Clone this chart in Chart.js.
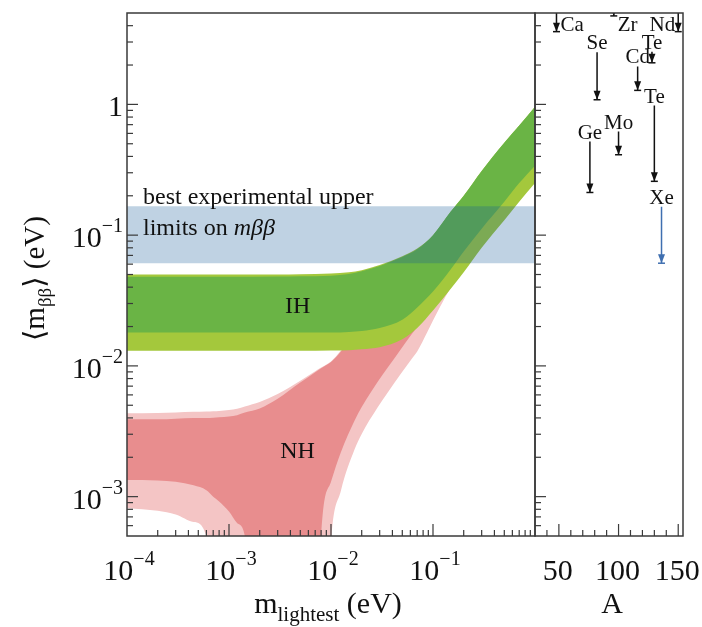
<!DOCTYPE html>
<html>
<head>
<meta charset="utf-8">
<script src="https://cdn.jsdelivr.net/npm/chart.js@4.4.1/dist/chart.umd.min.js"></script>
<style>
  html, body { margin: 0; padding: 0; background: #fff; }
  #wrap { position: relative; width: 702px; height: 627px; }
  #wrap canvas { position: absolute; left: 0; top: 0; }
</style>
</head>
<body>
<div id="wrap">
  <canvas id="masas" width="702" height="627"></canvas>
  <canvas id="isotopos" width="702" height="627"></canvas>
</div>
<script>
// ---- ejes ----
const X_MIN = 1e-4, X_MAX = 1;      // m_lightest (eV)
const Y_MIN = 5e-4, Y_MAX = 5;      // <m_bb> (eV)
const A_MIN = 30, A_MAX = 154;      // numero masico

const X_TICK_EXP = [-4, -3, -2, -1];
const Y_TICK_EXP = [-3, -2, -1, 0];
const A_TICKS = [50, 100, 150];

// ---- banda azul: mejores limites experimentales ----
const LIMIT_X = [1e-4, 1];
const LIMIT_HI = [0.166, 0.166];
const LIMIT_LO = [0.061, 0.061];

// ---- jerarquia invertida (IH) ----
const IH_X        = [1e-4, 1e-3, 3e-3, 5e-3, 1e-2, 1.5e-2, 2e-2, 3e-2, 5e-2, 7e-2, 0.1, 0.15, 0.2, 0.3, 0.5, 0.7, 1];
const IH_OUTER_HI = [0.050, 0.050, 0.0501, 0.0503, 0.0509, 0.052, 0.054, 0.059, 0.069, 0.079, 0.10, 0.152, 0.20, 0.31, 0.51, 0.69, 0.96];
const IH_INNER_HI = [0.048, 0.048, 0.0482, 0.0485, 0.049, 0.0505, 0.053, 0.058, 0.068, 0.078, 0.10, 0.152, 0.20, 0.31, 0.51, 0.69, 0.96];
const IH_INNER_LO = [0.018, 0.018, 0.018, 0.018, 0.018, 0.0182, 0.0185, 0.0195, 0.0225, 0.028, 0.037, 0.055, 0.075, 0.112, 0.18, 0.25, 0.34];
const IH_OUTER_LO = [0.01305, 0.01305, 0.01305, 0.01305, 0.0131, 0.0132, 0.0134, 0.0139, 0.016, 0.0195, 0.0265, 0.039, 0.052, 0.080, 0.13, 0.18, 0.25];

// ---- jerarquia normal (NH); 1e-5 = por debajo del eje ----
const NH_X = [1e-4, 2e-4, 3e-4, 4.5e-4, 6e-4, 7e-4, 8e-4, 1e-3, 1.2e-3, 1.43e-3,
              2e-3, 3e-3, 5e-3, 7e-3, 8e-3, 1e-2, 1.25e-2, 1.7e-2, 2e-2, 2.85e-2,
              3.6e-2, 4.8e-2, 6.2e-2, 7e-2, 8.8e-2, 0.1, 0.117, 0.15, 0.2, 0.3,
              0.5, 0.7, 1];
const NH_OUTER_HI = [0.00435, 0.00437, 0.0044, 0.00445, 0.00447, 0.0045, 0.00452, 0.0046, 0.0047, 0.0049,
                     0.0053, 0.0061, 0.0077, 0.0091, 0.0097, 0.0108, 0.0131, 0.018, 0.021, 0.029,
                     0.036, 0.047, 0.06, 0.067, 0.083, 0.094, 0.11, 0.142, 0.188, 0.285,
                     0.475, 0.66, 0.93];
const NH_INNER_HI = [0.0039, 0.0039, 0.00395, 0.004, 0.004, 0.00402, 0.00405, 0.0041, 0.0042, 0.0044,
                     0.00472, 0.0056, 0.00745, 0.00895, 0.0096, 0.0107, 0.0129, 0.0175, 0.020, 0.028,
                     0.035, 0.046, 0.059, 0.066, 0.082, 0.093, 0.108, 0.14, 0.185, 0.28,
                     0.47, 0.65, 0.92];
const NH_INNER_LO = [0.00134, 0.00133, 0.0013, 0.00122, 0.00112, 0.001, 0.00092, 0.00077, 0.00063, 0.0005,
                     1e-5, 1e-5, 1e-5, 1e-5, 0.00049, 0.0013, 0.00219, 0.0038, 0.00484, 0.0075,
                     0.0097, 0.0133, 0.0175, 0.0199, 0.0252, 0.0287, 0.0337, 0.045, 0.06, 0.09,
                     0.15, 0.21, 0.29];
const NH_OUTER_LO = [0.00082, 0.00078, 0.00073, 0.00064, 0.0005, 1e-5, 1e-5, 1e-5, 1e-5, 1e-5,
                     1e-5, 1e-5, 1e-5, 1e-5, 1e-5, 0.00045, 0.00111, 0.00229, 0.00302, 0.00478,
                     0.00627, 0.00865, 0.01135, 0.0129, 0.0182, 0.0222, 0.0282, 0.040, 0.055, 0.085,
                     0.14, 0.19, 0.26];

// ---- limites por isotopo (panel derecho) ----
const ISO_NAME   = ['Ca', 'Ge', 'Se', 'Zr', 'Mo', 'Cd', 'Te', 'Te', 'Xe', 'Nd'];
const ISO_A      = [48, 76, 82, 96, 100, 116, 128, 130, 136, 150];
const ISO_TOP    = [5, 0.52, 2.5, 5, 0.62, 1.95, 2.53, 0.98, 0.165, 5];
const ISO_BOTTOM = [3.6, 0.212, 1.085, 4.75, 0.412, 1.28, 2.08, 0.258, 0.061, 3.6];

// ---- estilo ----
const SERIF = "'Liberation Serif', 'DejaVu Serif', serif";
const INK = '#111';
const FRAME = '#3a3a3a';
const XE_BLUE = '#3f6fb0';

const pts = (xs, ys) => xs.map((x, i) => ({ x: x, y: ys[i] }));

function banda(data, color, fillTo) {
  return {
    data: data,
    borderWidth: 0,
    pointRadius: 0,
    backgroundColor: color,
    fill: fillTo === undefined ? false : fillTo,
    cubicInterpolationMode: 'monotone'
  };
}

// texto con partes (superindices / subindices)
const fontOf = p => (p.italic ? 'italic ' : '') + p.size + 'px ' + SERIF;
function richText(ctx, parts, x, y, align) {
  let w = 0;
  parts.forEach(p => { ctx.font = fontOf(p); p.w = ctx.measureText(p.t).width; w += p.w; });
  let cx = align === 'right' ? x - w : (align === 'center' ? x - w / 2 : x);
  ctx.textAlign = 'left';
  ctx.textBaseline = 'alphabetic';
  parts.forEach(p => { ctx.font = fontOf(p); ctx.fillText(p.t, cx, y + (p.dy || 0)); cx += p.w; });
}
function potencia(exp) {
  if (exp === 0) return [{ t: '1', size: 30 }];
  return [{ t: '10', size: 30 }, { t: '\u2212' + Math.abs(exp), size: 20, dy: -15 }];
}
function logSteps(min, max) {
  const out = [];
  for (let e = Math.floor(Math.log10(min)); e < Math.log10(max); e++) {
    for (let k = 1; k <= 9; k++) {
      const v = k * Math.pow(10, e);
      if (v > min * 1.0001 && v < max * 0.9999) out.push({ v: v, major: k === 1 });
    }
  }
  return out;
}
function seg(ctx, x1, y1, x2, y2) {
  ctx.beginPath(); ctx.moveTo(x1, y1); ctx.lineTo(x2, y2); ctx.stroke();
}

// ---- decoracion del panel izquierdo ----
const decoMasas = {
  id: 'decoMasas',
  afterDatasetsDraw(chart) {
    const { ctx, scales: { x, y } } = chart;
    ctx.save();
    ctx.fillStyle = INK;
    richText(ctx, [{ t: 'best experimental upper', size: 24 }], chart.chartArea.left + 16, 204, 'left');
    richText(ctx, [{ t: 'limits on ', size: 24 }, { t: 'm\u03b2\u03b2', size: 24, italic: true }], chart.chartArea.left + 16, 235, 'left');
    richText(ctx, [{ t: 'IH', size: 24 }], x.getPixelForValue(4.7e-3), y.getPixelForValue(0.0282) + 6, 'center');
    richText(ctx, [{ t: 'NH', size: 24 }], x.getPixelForValue(4.7e-3), y.getPixelForValue(0.00227) + 8, 'center');
    ctx.restore();
  },
  afterDraw(chart) {
    const { ctx, chartArea: a, scales: { x, y } } = chart;
    ctx.save();
    ctx.strokeStyle = FRAME;
    ctx.lineWidth = 1.2;
    logSteps(X_MIN, X_MAX).forEach(t => {
      const px = x.getPixelForValue(t.v);
      seg(ctx, px, a.bottom, px, a.bottom - (t.major ? 12 : 6));
    });
    logSteps(Y_MIN, Y_MAX).forEach(t => {
      const py = y.getPixelForValue(t.v);
      seg(ctx, a.left, py, a.left + (t.major ? 11 : 6), py);
    });
    ctx.lineWidth = 1.5;
    ctx.strokeRect(a.left, a.top, a.right - a.left, a.bottom - a.top);

    ctx.fillStyle = INK;
    X_TICK_EXP.forEach(e => {
      richText(ctx, potencia(e), x.getPixelForValue(Math.pow(10, e)) + 2, a.bottom + 44, 'center');
    });
    Y_TICK_EXP.forEach(e => {
      richText(ctx, potencia(e), a.left - 4, y.getPixelForValue(Math.pow(10, e)) + 12, 'right');
    });
    // titulos
    richText(ctx, [{ t: 'm', size: 30 }, { t: 'lightest', size: 21, dy: 8 }, { t: ' (eV)', size: 30 }],
      (a.left + a.right) / 2 - 3, a.bottom + 77, 'center');
    ctx.translate(44, (a.top + a.bottom) / 2 + 4);
    ctx.rotate(-Math.PI / 2);
    richText(ctx, [{ t: '\u27e8', size: 29 }, { t: 'm', size: 29 }, { t: '\u03b2\u03b2', size: 19, dy: 7 },
      { t: '\u27e9', size: 29 }, { t: ' (eV)', size: 29 }], 0, 0, 'center');
    ctx.restore();
  }
};

// ---- decoracion del panel derecho ----
const decoIsotopos = {
  id: 'decoIsotopos',
  afterDatasetsDraw(chart) {
    const { ctx, chartArea: a } = chart;
    ctx.save();
    chart.data.datasets.forEach((ds, i) => {
      const meta = chart.getDatasetMeta(i);
      const top = meta.data[0], bot = meta.data[1];
      ctx.save();
      ctx.beginPath();
      ctx.rect(a.left, a.top, a.right - a.left, a.bottom - a.top);
      ctx.clip();
      ctx.fillStyle = ds.borderColor;
      ctx.strokeStyle = ds.borderColor;
      ctx.beginPath();
      ctx.moveTo(bot.x - 3.5, bot.y - 9);
      ctx.lineTo(bot.x + 3.5, bot.y - 9);
      ctx.lineTo(bot.x, bot.y);
      ctx.closePath();
      ctx.fill();
      ctx.lineWidth = 1.5;
      seg(ctx, bot.x - 3.5, bot.y, bot.x + 3.5, bot.y);
      ctx.restore();

      ctx.fillStyle = INK;
      ctx.font = '21px ' + SERIF;
      const w = ctx.measureText(ds.label).width;
      if (ISO_TOP[i] >= Y_MAX) {
        if (top.x + 5 + w > a.right) richText(ctx, [{ t: ds.label, size: 21 }], top.x - 3, a.top + 18, 'right');
        else richText(ctx, [{ t: ds.label, size: 21 }], top.x + 4, a.top + 18, 'left');
      } else {
        richText(ctx, [{ t: ds.label, size: 21 }], top.x, top.y - 3, 'center');
      }
    });
    ctx.restore();
  },
  afterDraw(chart) {
    const { ctx, chartArea: a, scales: { x, y } } = chart;
    ctx.save();
    ctx.strokeStyle = FRAME;
    ctx.lineWidth = 1.2;
    for (let v = 40; v <= 150; v += 10) {
      const px = x.getPixelForValue(v);
      seg(ctx, px, a.bottom, px, a.bottom - (A_TICKS.includes(v) ? 12 : 6));
    }
    logSteps(Y_MIN, Y_MAX).forEach(t => {
      const py = y.getPixelForValue(t.v);
      seg(ctx, a.left, py, a.left + (t.major ? 11 : 6), py);
    });
    ctx.lineWidth = 1.5;
    ctx.strokeRect(a.left, a.top, a.right - a.left, a.bottom - a.top);
    ctx.fillStyle = INK;
    A_TICKS.forEach(v => {
      richText(ctx, [{ t: String(v), size: 30 }], x.getPixelForValue(v) - 1, a.bottom + 44, 'center');
    });
    richText(ctx, [{ t: 'A', size: 30 }], (a.left + a.right) / 2 + 3, a.bottom + 77, 'center');
    ctx.restore();
  }
};

const comunes = {
  responsive: false,
  animation: false,
  events: [],
  plugins: { legend: { display: false }, tooltip: { enabled: false } }
};

// panel izquierdo: bandas (el dataset 0 queda encima)
new Chart(document.getElementById('masas'), {
  type: 'line',
  data: {
    datasets: [
      banda(pts(LIMIT_X, LIMIT_HI), 'rgba(20, 90, 150, 0.27)'),
      banda(pts(LIMIT_X, LIMIT_LO), 'rgba(20, 90, 150, 0.27)', 0),
      banda(pts(IH_X, IH_INNER_HI), '#6ab445'),
      banda(pts(IH_X, IH_INNER_LO), '#6ab445', 2),
      banda(pts(IH_X, IH_OUTER_HI), '#a4c83c'),
      banda(pts(IH_X, IH_OUTER_LO), '#a4c83c', 4),
      banda(pts(NH_X, NH_INNER_HI), '#e88d8e'),
      banda(pts(NH_X, NH_INNER_LO), '#e88d8e', 6),
      banda(pts(NH_X, NH_OUTER_HI), '#f4c5c5'),
      banda(pts(NH_X, NH_OUTER_LO), '#f4c5c5', 8)
    ]
  },
  options: Object.assign({}, comunes, {
    layout: { padding: { left: 127, right: 702 - 535, top: 13, bottom: 627 - 536 } },
    scales: {
      x: { type: 'logarithmic', min: X_MIN, max: X_MAX, display: false },
      y: { type: 'logarithmic', min: Y_MIN, max: Y_MAX, display: false }
    }
  }),
  plugins: [decoMasas]
});

// panel derecho: limites por isotopo
new Chart(document.getElementById('isotopos'), {
  type: 'line',
  data: {
    datasets: ISO_NAME.map((name, i) => ({
      label: name,
      data: [{ x: ISO_A[i], y: ISO_TOP[i] }, { x: ISO_A[i], y: ISO_BOTTOM[i] }],
      borderColor: name === 'Xe' ? XE_BLUE : INK,
      borderWidth: 1.5,
      pointRadius: 0,
      fill: false
    }))
  },
  options: Object.assign({}, comunes, {
    layout: { padding: { left: 535, right: 702 - 683, top: 13, bottom: 627 - 536 } },
    scales: {
      x: { type: 'linear', min: A_MIN, max: A_MAX, display: false },
      y: { type: 'logarithmic', min: Y_MIN, max: Y_MAX, display: false }
    }
  }),
  plugins: [decoIsotopos]
});
</script>
</body>
</html>
